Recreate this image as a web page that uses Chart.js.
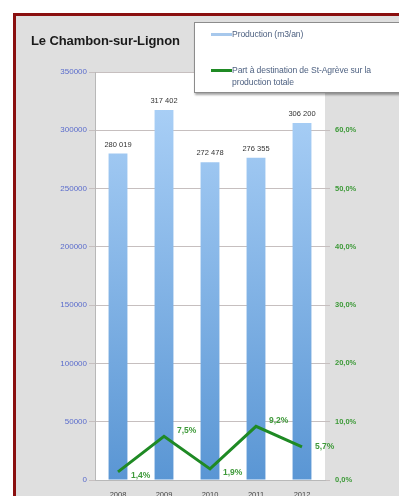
<!DOCTYPE html>
<html lang="fr">
<head>
<meta charset="utf-8">
<title>Le Chambon-sur-Lignon</title>
<script src="https://cdn.jsdelivr.net/npm/chart.js@4/dist/chart.umd.min.js"></script>
<style>
  html, body { margin: 0; padding: 0; background: #ffffff; }
  body { width: 399px; height: 496px; position: relative; overflow: hidden; }
  #frame {
    position: absolute; left: 13px; top: 13px; width: 420px; height: 520px;
    border: 3px solid #8a0f0f; background: #dfdfdf; box-sizing: border-box;
  }
  #wrap { position: absolute; left: 0; top: 0; width: 399px; height: 496px; }
  #title {
    position: absolute; left: 31px; top: 33px;
    font: bold 13px "Liberation Sans", Arial, sans-serif; color: #1a1a1a;
    letter-spacing: -0.1px; white-space: nowrap;
  }
  #legend {
    position: absolute; left: 194px; top: 22px; width: 215px; height: 71px;
    background: #ffffff; border: 1px solid #8c8c8c; box-sizing: border-box;
    box-shadow: 1px 2px 2px rgba(0,0,0,0.35);
    font: 8.6px "Liberation Sans", Arial, sans-serif; color: #4f6282;
  }
  .item { position: absolute; left: 16px; }
  .swatch { position: absolute; left: 0; width: 21px; height: 3px; }
  .txt { position: absolute; left: 21px; white-space: nowrap; line-height: 12px; letter-spacing: -0.1px; }
</style>
</head>
<body>
<div id="frame"></div>
<div id="wrap"><canvas id="c" width="399" height="496"></canvas></div>
<div id="title">Le Chambon-sur-Lignon</div>
<div id="legend">
  <div class="item" style="top:10px"><div class="swatch" style="background:#a7c8ec;top:0"></div><div class="txt" style="top:-5px">Production (m3/an)</div></div>
  <div class="item" style="top:46px"><div class="swatch" style="background:#1f8a24;top:0"></div><div class="txt" style="top:-5px">Part à destination de St-Agrève sur la<br>production totale</div></div>
</div>
<script>
// Annual production of the Chambon-sur-Lignon water source
const years = ['2008', '2009', '2010', '2011', '2012'];
const production = [280019, 317402, 272478, 276355, 306200];
// Share of that production sent to St-Agrève (%)
const shareStAgreve = [1.4, 7.5, 1.9, 9.2, 5.7];
const productionTicks = [0, 50000, 100000, 150000, 200000, 250000, 300000, 350000];
const shareTicks = [0, 10, 20, 30, 40, 50, 60, 70];

const fmtThousands = v => String(v).replace(/\B(?=(\d{3})+(?!\d))/g, ' ');
const fmtPct1 = v => v.toFixed(1).replace('.', ',') + '%';

// White plotting area on the grey frame
const plotBackground = {
  id: 'plotBackground',
  beforeDraw(chart) {
    const { ctx, chartArea: a } = chart;
    ctx.save();
    ctx.fillStyle = '#ffffff';
    ctx.fillRect(a.left, a.top, a.right - a.left, a.bottom - a.top);
    ctx.restore();
  }
};

// Values written above the bars and beside the line points
const valueLabels = {
  id: 'valueLabels',
  afterDatasetsDraw(chart) {
    const { ctx } = chart;
    ctx.save();
    const barMeta = chart.getDatasetMeta(1);
    ctx.font = '7.5px "Liberation Sans", Arial, sans-serif';
    ctx.fillStyle = '#333333';
    ctx.textAlign = 'center';
    ctx.textBaseline = 'middle';
    barMeta.data.forEach((el, i) => {
      ctx.fillText(fmtThousands(production[i]), el.x, el.y - 9);
    });
    const lineMeta = chart.getDatasetMeta(0);
    ctx.font = 'bold 8.5px "Liberation Sans", Arial, sans-serif';
    ctx.fillStyle = '#3f9a3a';
    ctx.textAlign = 'left';
    lineMeta.data.forEach((el, i) => {
      const v = shareStAgreve[i];
      const prev = i > 0 ? shareStAgreve[i - 1] : -Infinity;
      const next = i < shareStAgreve.length - 1 ? shareStAgreve[i + 1] : -Infinity;
      let dy = 0;
      if (i === shareStAgreve.length - 1) dy = 0;
      else if (v > prev && v > next) dy = -6;
      else dy = 4;
      ctx.fillText(fmtPct1(v), el.x + 13, el.y + dy);
    });
    ctx.restore();
  }
};

const ctx = document.getElementById('c').getContext('2d');
const barGradient = ctx.createLinearGradient(0, 480, 0, 105);
barGradient.addColorStop(0, '#5a96d4');
barGradient.addColorStop(1, '#a9cff6');

new Chart(ctx, {
  type: 'bar',
  data: {
    labels: years,
    datasets: [
      {
        type: 'line',
        label: 'Part à destination de St-Agrève sur la production totale',
        data: shareStAgreve,
        yAxisID: 'y1',
        borderColor: '#1f8a24',
        borderWidth: 3,
        pointRadius: 0,
        tension: 0,
        order: 0
      },
      {
        type: 'bar',
        label: 'Production (m3/an)',
        data: production,
        yAxisID: 'y',
        backgroundColor: barGradient,
        categoryPercentage: 1,
        barPercentage: 0.41,
        order: 1
      }
    ]
  },
  options: {
    responsive: false,
    animation: false,
    devicePixelRatio: 1,
    layout: { padding: { top: 72, left: 0, right: 0, bottom: 0 } },
    plugins: { legend: { display: false }, tooltip: { enabled: false }, title: { display: false } },
    scales: {
      x: {
        afterFit(s) { s.height = 16; },
        grid: { display: false },
        border: { display: true, color: '#b8b8b8', width: 1 },
        ticks: { color: '#444444', font: { size: 7.5, family: '"Liberation Sans", Arial, sans-serif' }, padding: 2 }
      },
      y: {
        position: 'left',
        min: 0, max: 350000,
        afterFit(s) { s.width = 95; },
        afterBuildTicks(s) { s.ticks = productionTicks.map(v => ({ value: v })); },
        grid: { color: '#c6bfbf', lineWidth: 1, tickLength: 6 },
        border: { display: true, color: '#b8b8b8' },
        ticks: {
          color: '#5a6ccc', padding: 2,
          font: { size: 8, family: '"Liberation Sans", Arial, sans-serif' },
          callback: v => String(v)
        }
      },
      y1: {
        position: 'right',
        min: 0, max: 70,
        afterFit(s) { s.width = 74; },
        afterBuildTicks(s) { s.ticks = shareTicks.map(v => ({ value: v })); },
        grid: { drawOnChartArea: false, color: '#c6bfbf', tickLength: 5 },
        border: { display: false },
        ticks: {
          color: '#3d9a38', padding: 5,
          font: { size: 7.5, weight: 'bold', family: '"Liberation Sans", Arial, sans-serif' },
          callback: v => fmtPct1(v)
        }
      }
    }
  },
  plugins: [plotBackground, valueLabels]
});
</script>
</body>
</html>
